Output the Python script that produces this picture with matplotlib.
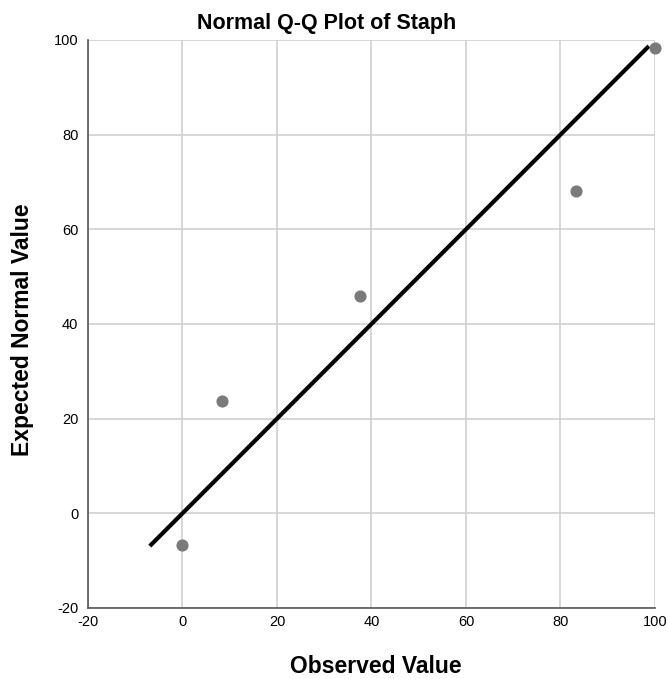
import matplotlib.pyplot as plt

plt.rcParams['font.family'] = ['Liberation Sans', 'DejaVu Sans']
plt.rcParams['axes.unicode_minus'] = False

# Daten
observed = [0.0, 8.33, 37.5, 83.33, 100.0]
expected = [-6.6, 23.8, 45.83, 68.1, 98.4]
ref_line = [-6.6, 98.4]
ticks = [-20, 0, 20, 40, 60, 80, 100]

fig = plt.figure(figsize=(6.68, 6.79), dpi=100)
ax = fig.add_axes([0.1317, 0.1046, 0.8488, 0.8365])

ax.grid(True, color='#d0d0d0', linewidth=1.2)
ax.set_axisbelow(True)

ax.plot(ref_line, ref_line, color='black', linewidth=3, zorder=2)
ax.scatter(observed, expected, s=60, color='#7a7a7a', zorder=3, clip_on=False)

ax.set_xlim(-20, 100)
ax.set_ylim(-20, 100)
ax.set_xticks(ticks)
ax.set_yticks(ticks)
ax.tick_params(length=0, labelsize=10.5)
ax.tick_params(axis='y', pad=7)
ax.tick_params(axis='x', pad=5)

for s in ['top', 'right']:
    ax.spines[s].set_visible(False)
for s in ['left', 'bottom']:
    ax.spines[s].set_color('#555555')
    ax.spines[s].set_linewidth(1.2)

# Titel und Achsentitel
fig.text(0.4895, 0.966, 'Normal Q-Q Plot of Staph', fontsize=15.5,
         fontweight='bold', ha='center', va='center')
fig.text(0.563, 0.019, 'Observed Value', fontsize=16.5,
         fontweight='bold', ha='center', va='center')
fig.text(0.034, 0.514, 'Expected Normal Value', fontsize=16.5,
         fontweight='bold', ha='center', va='center', rotation=90)

fig.savefig('out.png', dpi=100)
